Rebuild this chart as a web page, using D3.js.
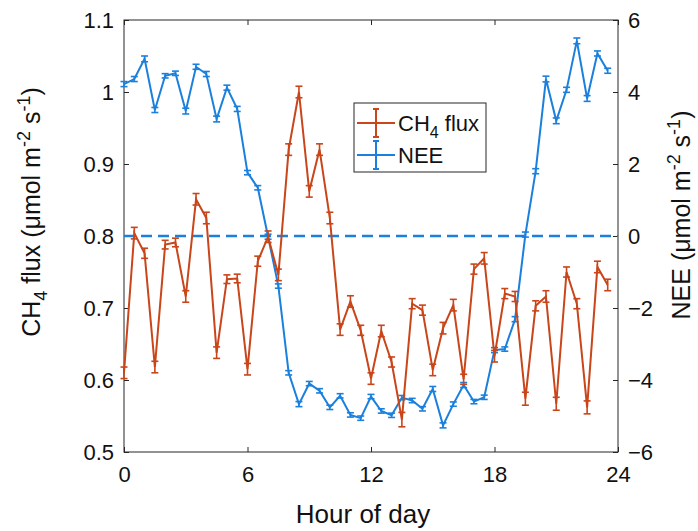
<!DOCTYPE html>
<html>
<head>
<meta charset="utf-8">
<title>CH4 and NEE</title>
<script src="https://cdn.jsdelivr.net/npm/d3@7"></script>
<style>
  body { margin: 0; background: #fff; }
  svg { font-family: "Liberation Sans", Arial, sans-serif; }
</style>
</head>
<body>
<div id="chart"></div>
<script>
// half-hourly bins
var hours = d3.range(48).map(function(i) { return i / 2; });

var ch4 = [0.61, 0.804, 0.776, 0.618, 0.788, 0.791, 0.716, 0.851, 0.825, 0.638,
  0.740, 0.741, 0.615, 0.765, 0.799, 0.746, 0.920, 1.000, 0.862, 0.920,
  0.825, 0.670, 0.709, 0.669, 0.602, 0.668, 0.625, 0.545, 0.706, 0.697,
  0.614, 0.672, 0.704, 0.601, 0.754, 0.769, 0.633, 0.720, 0.716, 0.574,
  0.703, 0.716, 0.567, 0.750, 0.706, 0.562, 0.757, 0.732];
var ch4Err = [0.008, 0.008, 0.007, 0.008, 0.006, 0.006, 0.008, 0.008, 0.008, 0.008,
  0.006, 0.006, 0.008, 0.007, 0.008, 0.008, 0.008, 0.008, 0.008, 0.008,
  0.008, 0.008, 0.008, 0.007, 0.008, 0.008, 0.007, 0.010, 0.007, 0.007,
  0.008, 0.008, 0.008, 0.007, 0.007, 0.008, 0.008, 0.007, 0.007, 0.009,
  0.007, 0.008, 0.009, 0.007, 0.007, 0.009, 0.008, 0.008];

var nee = [4.22, 4.36, 4.92, 3.50, 4.45, 4.52, 3.47, 4.70, 4.50, 3.25,
  4.12, 3.53, 1.76, 1.34, -0.02, -1.39, -3.80, -4.67, -4.10, -4.30,
  -4.76, -4.44, -4.97, -5.06, -4.46, -4.86, -4.98, -4.49, -4.57, -4.80,
  -4.25, -5.26, -4.67, -4.14, -4.60, -4.48, -3.17, -3.14, -2.31, 0.04,
  1.80, 4.36, 3.20, 4.06, 5.42, 3.82, 5.07, 4.59];
var neeErr = [0.07, 0.07, 0.08, 0.07, 0.06, 0.06, 0.08, 0.07, 0.07, 0.08,
  0.07, 0.07, 0.06, 0.06, 0.07, 0.06, 0.06, 0.07, 0.06, 0.06,
  0.06, 0.06, 0.06, 0.06, 0.06, 0.06, 0.06, 0.06, 0.06, 0.06,
  0.07, 0.07, 0.06, 0.07, 0.06, 0.06, 0.07, 0.06, 0.07, 0.07,
  0.07, 0.08, 0.08, 0.07, 0.08, 0.08, 0.07, 0.07];

var xTicks = [0, 6, 12, 18, 24];
var leftTicks = [0.5, 0.6, 0.7, 0.8, 0.9, 1, 1.1];
var rightTicks = [-6, -4, -2, 0, 2, 4, 6];

var red = "#C9451A", blue = "#1B80DD";

var W = 698, H = 531;
var m = {left: 124, right: 80, top: 20, bottom: 79};
var pw = W - m.left - m.right, ph = H - m.top - m.bottom;

var svg = d3.select("#chart").append("svg").attr("width", W).attr("height", H);
var g = svg.append("g").attr("transform", "translate(" + m.left + "," + m.top + ")");

var x = d3.scaleLinear().domain([0, 24]).range([0, pw]);
var yL = d3.scaleLinear().domain([0.5, 1.1]).range([ph, 0]);
var yR = d3.scaleLinear().domain([-6, 6]).range([ph, 0]);

function styleAxis(sel) {
  sel.select(".domain").remove();
  sel.selectAll(".tick line").attr("stroke", "#262626");
  sel.selectAll(".tick text").attr("fill", "#111").style("font-size", "22px");
}

// box
g.append("rect").attr("width", pw).attr("height", ph)
  .attr("fill", "none").attr("stroke", "#262626").attr("stroke-width", 1);

g.append("g").attr("transform", "translate(0," + ph + ")")
  .call(d3.axisBottom(x).tickValues(xTicks).tickSize(-5).tickPadding(14).tickFormat(d3.format("d")))
  .call(styleAxis);
g.append("g")
  .call(d3.axisTop(x).tickValues(xTicks).tickSize(-5).tickFormat(""))
  .call(styleAxis);
g.append("g")
  .call(d3.axisLeft(yL).tickValues(leftTicks).tickSize(-5).tickPadding(10).tickFormat(d3.format("~g")))
  .call(styleAxis);
g.append("g").attr("transform", "translate(" + pw + ",0)")
  .call(d3.axisRight(yR).tickValues(rightTicks).tickSize(-5).tickPadding(10).tickFormat(d3.format("d")))
  .call(styleAxis);

// zero line of NEE
g.append("line").attr("x1", 0).attr("x2", pw)
  .attr("y1", yR(0)).attr("y2", yR(0))
  .attr("stroke", blue).attr("stroke-width", 2.5).attr("stroke-dasharray", "11,6");

function drawSeries(vals, errs, y, color) {
  var pts = hours.map(function(h, i) { return {h: h, v: vals[i], e: errs[i]}; });
  var s = g.append("g");
  s.append("path").datum(pts)
    .attr("fill", "none").attr("stroke", color).attr("stroke-width", 2)
    .attr("d", d3.line().x(function(d) { return x(d.h); }).y(function(d) { return y(d.v); }));
  var eb = s.selectAll("g.eb").data(pts).enter().append("g")
    .attr("stroke", color).attr("stroke-width", 1.6);
  eb.append("line")
    .attr("x1", function(d) { return x(d.h); }).attr("x2", function(d) { return x(d.h); })
    .attr("y1", function(d) { return y(d.v - d.e); }).attr("y2", function(d) { return y(d.v + d.e); });
  eb.append("line")
    .attr("x1", function(d) { return x(d.h) - 3.5; }).attr("x2", function(d) { return x(d.h) + 3.5; })
    .attr("y1", function(d) { return y(d.v + d.e); }).attr("y2", function(d) { return y(d.v + d.e); });
  eb.append("line")
    .attr("x1", function(d) { return x(d.h) - 3.5; }).attr("x2", function(d) { return x(d.h) + 3.5; })
    .attr("y1", function(d) { return y(d.v - d.e); }).attr("y2", function(d) { return y(d.v - d.e); });
}

drawSeries(nee, neeErr, yR, blue);
drawSeries(ch4, ch4Err, yL, red);

// legend
var lg = svg.append("g").attr("transform", "translate(354,103)");
lg.append("rect").attr("width", 132).attr("height", 69)
  .attr("fill", "#fff").attr("stroke", "#262626").attr("stroke-width", 1);
var legendItems = [{name: "CH", sub: "4", rest: " flux", color: red, y: 20},
                   {name: "NEE", color: blue, y: 52}];
legendItems.forEach(function(it) {
  lg.append("line").attr("x1", 3).attr("x2", 41).attr("y1", it.y).attr("y2", it.y)
    .attr("stroke", it.color).attr("stroke-width", 2);
  lg.append("line").attr("x1", 22).attr("x2", 22).attr("y1", it.y - 14).attr("y2", it.y + 14)
    .attr("stroke", it.color).attr("stroke-width", 2);
  lg.append("line").attr("x1", 19).attr("x2", 25).attr("y1", it.y - 14).attr("y2", it.y - 14)
    .attr("stroke", it.color).attr("stroke-width", 2);
  lg.append("line").attr("x1", 19).attr("x2", 25).attr("y1", it.y + 14).attr("y2", it.y + 14)
    .attr("stroke", it.color).attr("stroke-width", 2);
  var t = lg.append("text").attr("x", 44).attr("y", it.y + 8)
    .attr("fill", "#111").style("font-size", "22px").text(it.name);
  if (it.sub) {
    t.append("tspan").attr("dy", 7).style("font-size", "16px").text(it.sub);
    t.append("tspan").attr("dy", -7).text(it.rest);
  }
});

// axis titles
svg.append("text").attr("x", m.left + pw / 2 - 8).attr("y", 523)
  .attr("text-anchor", "middle").attr("fill", "#111").style("font-size", "26px")
  .text("Hour of day");

var lt = svg.append("text").attr("transform", "translate(40,212) rotate(-90)")
  .attr("text-anchor", "middle").attr("fill", "#111").style("font-size", "25px");
lt.append("tspan").text("CH");
lt.append("tspan").attr("dy", 7).style("font-size", "18px").text("4");
lt.append("tspan").attr("dy", -7).text(" flux (μmol m");
lt.append("tspan").attr("dy", -10).style("font-size", "18px").text("-2");
lt.append("tspan").attr("dy", 10).text(" s");
lt.append("tspan").attr("dy", -10).style("font-size", "18px").text("-1");
lt.append("tspan").attr("dy", 10).text(")");

var rt = svg.append("text").attr("transform", "translate(690,215) rotate(-90)")
  .attr("text-anchor", "middle").attr("fill", "#111").style("font-size", "25px");
rt.append("tspan").text("NEE (μmol m");
rt.append("tspan").attr("dy", -10).style("font-size", "18px").text("-2");
rt.append("tspan").attr("dy", 10).text(" s");
rt.append("tspan").attr("dy", -10).style("font-size", "18px").text("-1");
rt.append("tspan").attr("dy", 10).text(")");
</script>
</body>
</html>
